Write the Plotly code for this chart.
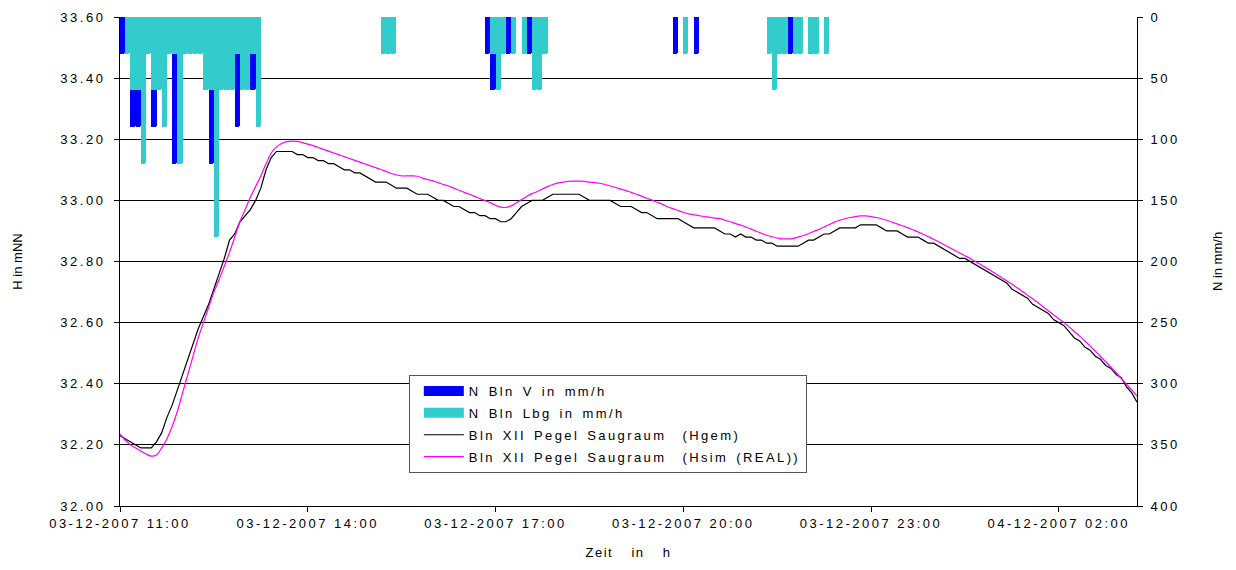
import pandas as pd
import plotly.graph_objects as go

# ---------------- data ----------------
start = "2007-12-03 11:00"
n_points = 196  # 5-minute steps 11:00 .. 03:15

h_gem = [
    32.23, 32.22, 32.21, 32.20, 32.19, 32.19, 32.19, 32.21, 32.24, 32.29,
    32.33, 32.38, 32.43, 32.48, 32.53, 32.58, 32.62, 32.66, 32.71, 32.76,
    32.81, 32.87, 32.89, 32.93, 32.95, 32.97, 33.00, 33.04, 33.10, 33.14,
    33.16, 33.16, 33.16, 33.16, 33.15, 33.15, 33.14, 33.14, 33.13, 33.13,
    33.12, 33.12, 33.11, 33.10, 33.10, 33.09, 33.09, 33.08, 33.07, 33.06,
    33.06, 33.06, 33.05, 33.04, 33.04, 33.04, 33.03, 33.02, 33.02, 33.02,
    33.01, 33.00, 33.00, 32.99, 32.98, 32.98, 32.97, 32.96, 32.96, 32.95,
    32.95, 32.94, 32.94, 32.93, 32.93, 32.94, 32.96, 32.98, 32.99, 33.00,
    33.00, 33.00, 33.01, 33.02, 33.02, 33.02, 33.02, 33.02, 33.02, 33.01,
    33.00, 33.00, 33.00, 33.00, 33.00, 32.99, 32.98, 32.98, 32.98, 32.97,
    32.96, 32.96, 32.95, 32.94, 32.94, 32.94, 32.94, 32.94, 32.93, 32.92,
    32.91, 32.91, 32.91, 32.91, 32.91, 32.90, 32.89, 32.89, 32.88, 32.89,
    32.88, 32.88, 32.87, 32.87, 32.86, 32.86, 32.85, 32.85, 32.85, 32.85,
    32.85, 32.86, 32.87, 32.87, 32.88, 32.89, 32.89, 32.90, 32.91, 32.91,
    32.91, 32.91, 32.92, 32.92, 32.92, 32.92, 32.91, 32.90, 32.90, 32.90,
    32.89, 32.88, 32.88, 32.88, 32.87, 32.86, 32.86, 32.85, 32.84, 32.83,
    32.82, 32.81, 32.81, 32.80, 32.79, 32.78, 32.77, 32.76, 32.75, 32.74,
    32.73, 32.71, 32.70, 32.69, 32.68, 32.66, 32.65, 32.64, 32.63, 32.61,
    32.60, 32.59, 32.57, 32.55, 32.54, 32.52, 32.51, 32.49, 32.48, 32.46,
    32.45, 32.43, 32.42, 32.39, 32.37, 32.34,
]

h_sim = [
    32.235, 32.215, 32.200, 32.190, 32.180, 32.170, 32.163, 32.167, 32.190, 32.220,
    32.260, 32.310, 32.370, 32.430, 32.490, 32.550, 32.600, 32.650, 32.700, 32.740,
    32.785, 32.830, 32.880, 32.930, 32.970, 33.010, 33.045, 33.080, 33.120, 33.155,
    33.175, 33.186, 33.192, 33.194, 33.193, 33.189, 33.184, 33.179, 33.173, 33.167,
    33.161, 33.155, 33.149, 33.143, 33.137, 33.131, 33.125, 33.119, 33.113, 33.107,
    33.101, 33.095, 33.088, 33.083, 33.080, 33.080, 33.080, 33.079, 33.073, 33.068,
    33.064, 33.058, 33.052, 33.047, 33.040, 33.033, 33.026, 33.020, 33.013, 33.006,
    32.999, 32.992, 32.984, 32.978, 32.977, 32.982, 32.992, 33.003, 33.013, 33.022,
    33.029, 33.037, 33.045, 33.052, 33.057, 33.060, 33.062, 33.063, 33.063, 33.062,
    33.060, 33.058, 33.056, 33.052, 33.047, 33.042, 33.037, 33.032, 33.026, 33.020,
    33.014, 33.007, 33.001, 32.994, 32.987, 32.979, 32.973, 32.967, 32.961, 32.956,
    32.953, 32.950, 32.947, 32.945, 32.942, 32.940, 32.935, 32.930, 32.924, 32.919,
    32.913, 32.906, 32.899, 32.892, 32.886, 32.881, 32.877, 32.874, 32.874, 32.875,
    32.880, 32.885, 32.891, 32.898, 32.905, 32.913, 32.921, 32.929, 32.935, 32.940,
    32.944, 32.947, 32.949, 32.949, 32.947, 32.944, 32.940, 32.935, 32.929, 32.923,
    32.917, 32.911, 32.904, 32.897, 32.889, 32.881, 32.873, 32.864, 32.855, 32.846,
    32.837, 32.828, 32.819, 32.810, 32.800, 32.790, 32.780, 32.770, 32.759, 32.748,
    32.737, 32.726, 32.714, 32.702, 32.690, 32.678, 32.665, 32.652, 32.639, 32.626,
    32.613, 32.600, 32.586, 32.571, 32.556, 32.540, 32.524, 32.507, 32.490, 32.472,
    32.454, 32.436, 32.417, 32.398, 32.379, 32.360,
]

# rain intensities (start of 5-minute interval, mm/h)
rain_v_times = [
    "2007-12-03 11:00", "2007-12-03 11:05", "2007-12-03 11:10", "2007-12-03 11:15",
    "2007-12-03 11:25", "2007-12-03 11:30", "2007-12-03 11:45", "2007-12-03 11:50",
    "2007-12-03 12:05", "2007-12-03 12:25", "2007-12-03 12:35", "2007-12-03 12:50",
    "2007-12-03 13:05", "2007-12-03 16:50", "2007-12-03 16:55", "2007-12-03 17:10",
    "2007-12-03 17:30", "2007-12-03 19:50", "2007-12-03 20:10", "2007-12-03 21:20",
    "2007-12-03 21:40", "2007-12-03 22:00",
]
rain_v_values = [
    30, 30, 90, 90,
    30, 90, 30, 120,
    30, 120, 30, 90,
    60, 30, 60, 30,
    30, 30, 30, 30,
    30, 30,
]

rain_lbg_times = [
    "2007-12-03 11:05", "2007-12-03 11:10", "2007-12-03 11:15", "2007-12-03 11:20",
    "2007-12-03 11:25", "2007-12-03 11:30", "2007-12-03 11:35", "2007-12-03 11:40",
    "2007-12-03 11:45", "2007-12-03 11:50", "2007-12-03 11:55", "2007-12-03 12:00",
    "2007-12-03 12:05", "2007-12-03 12:10", "2007-12-03 12:15", "2007-12-03 12:20",
    "2007-12-03 12:25", "2007-12-03 12:30", "2007-12-03 12:35", "2007-12-03 12:40",
    "2007-12-03 12:45", "2007-12-03 12:50", "2007-12-03 12:55", "2007-12-03 13:00",
    "2007-12-03 13:05", "2007-12-03 13:10",
    "2007-12-03 15:10", "2007-12-03 15:15", "2007-12-03 15:20",
    "2007-12-03 16:55", "2007-12-03 17:00", "2007-12-03 17:05", "2007-12-03 17:15",
    "2007-12-03 17:25", "2007-12-03 17:35", "2007-12-03 17:40", "2007-12-03 17:45",
    "2007-12-03 20:00",
    "2007-12-03 21:20", "2007-12-03 21:25", "2007-12-03 21:30", "2007-12-03 21:35",
    "2007-12-03 21:45", "2007-12-03 21:50", "2007-12-03 22:00", "2007-12-03 22:05",
    "2007-12-03 22:15",
]
rain_lbg_values = [
    30, 60, 60, 120,
    30, 60, 60, 90,
    30, 30, 120, 30,
    30, 30, 30, 60,
    60, 180, 60, 60,
    60, 30, 60, 60,
    30, 90,
    30, 30, 30,
    30, 60, 30, 30,
    30, 60, 60, 30,
    30,
    30, 60, 30, 30,
    30, 30, 30, 30,
    30,
]

times = pd.date_range(start, periods=n_points, freq="5min")

# ---------------- figure ----------------
FONT = "Liberation Sans, Arial, sans-serif"
BLUE = "#0000FF"
CYAN = "#33CCCC"
MAGENTA = "#FF00FF"
INTERVAL_MS = 5 * 60 * 1000

fig = go.Figure()

fig.add_trace(go.Bar(
    x=pd.to_datetime(rain_v_times), y=rain_v_values, yaxis="y2",
    width=INTERVAL_MS, offset=0,
    marker=dict(color=BLUE, line=dict(width=0), cornerradius=2),
    name="N Bln V in mm/h", legendgroup="v", showlegend=False,
))
fig.add_trace(go.Bar(
    x=pd.to_datetime(rain_lbg_times), y=rain_lbg_values, yaxis="y2",
    width=INTERVAL_MS, offset=0,
    marker=dict(color=CYAN, line=dict(width=0), cornerradius=2),
    name="N Bln Lbg in mm/h", legendgroup="lbg", showlegend=False,
))

# legend swatches for the bar series
fig.add_trace(go.Scatter(x=[None], y=[None], mode="lines", line=dict(color=BLUE, width=10),
                         name="N Bln V in mm/h", legendgroup="v"))
fig.add_trace(go.Scatter(x=[None], y=[None], mode="lines", line=dict(color=CYAN, width=10),
                         name="N Bln Lbg in mm/h", legendgroup="lbg"))

fig.add_trace(go.Scatter(
    x=times, y=h_gem, mode="lines", line=dict(color="black", width=1.2),
    name="Bln XII Pegel Saugraum  (Hgem)", legendgroup="gem",
))
fig.add_trace(go.Scatter(
    x=times, y=h_sim, mode="lines", line=dict(color=MAGENTA, width=1.2, shape="spline"),
    name="Bln XII Pegel Saugraum  (Hsim (REAL))", legendgroup="sim",
))

fig.update_layout(
    width=1236, height=570,
    margin=dict(l=112, r=107, t=9, b=72, autoexpand=False),
    paper_bgcolor="white", plot_bgcolor="white",
    font=dict(family=FONT, size=13, color="black"),
    barmode="overlay", bargap=0,
    showlegend=True,
    legend=dict(
        x=0.284, y=0.268, xanchor="left", yanchor="top",
        bgcolor="white", bordercolor="#555555", borderwidth=1,
        font=dict(family=FONT, size=13, color="black"),
        itemwidth=40, tracegroupgap=2, indentation=9,
    ),
    xaxis=dict(
        type="date", automargin=False,
        range=["2007-12-03 11:00", "2007-12-04 03:15"],
        tick0="2007-12-03 11:00", dtick=3 * 3600 * 1000,
        tickformat="%d-%m-%Y %H:%M",
        ticks="outside", ticklen=5, tickcolor="black",
        showline=True, linecolor="black", linewidth=1,
        showgrid=False, zeroline=False,
        title=dict(text="Zeit  in  h", standoff=18, font=dict(size=13)),
    ),
    yaxis=dict(
        automargin=False,
        range=[32.0, 33.6], dtick=0.2, tickformat=".2f",
        ticks="outside", ticklen=5, tickcolor="black",
        ticklabelstandoff=6,
        showline=True, linecolor="black", linewidth=1,
        showgrid=True, gridcolor="black", gridwidth=1,
        zeroline=False,
        title=dict(text="H in mNN", standoff=34, font=dict(size=13)),
    ),
    yaxis2=dict(
        automargin=False,
        overlaying="y", side="right",
        range=[400, 0], dtick=50,
        ticks="outside", ticklen=5, tickcolor="black",
        ticklabelstandoff=5,
        showline=True, linecolor="black", linewidth=1,
        showgrid=False, zeroline=False,
        title=dict(text="N in mm/h", standoff=34, font=dict(size=13)),
    ),
)

# Excel-like wide letter spacing of tick labels, legend and x title;
# the figure is drawn again with a marginally different font size so that
# plotly measures the spaced text afresh instead of using cached sizes.
spacing_js = """
var gd = document.getElementById('{plot_id}');
var st = document.createElement('style');
st.textContent = '.xtick text, .ytick text, .y2tick text { letter-spacing: 2.5px; } ' +
    '.legendtext { letter-spacing: 2.4px; word-spacing: 2px; } ' +
    '.g-xtitle text { letter-spacing: 1.5px; word-spacing: 4px; }';
document.head.appendChild(st);
var lay = gd.layout;
lay.font.size = 13.01;
lay.legend.font.size = 13.01;
Plotly.newPlot(gd, gd.data, lay);
"""

fig.write_html("out.html", post_script=spacing_js)
